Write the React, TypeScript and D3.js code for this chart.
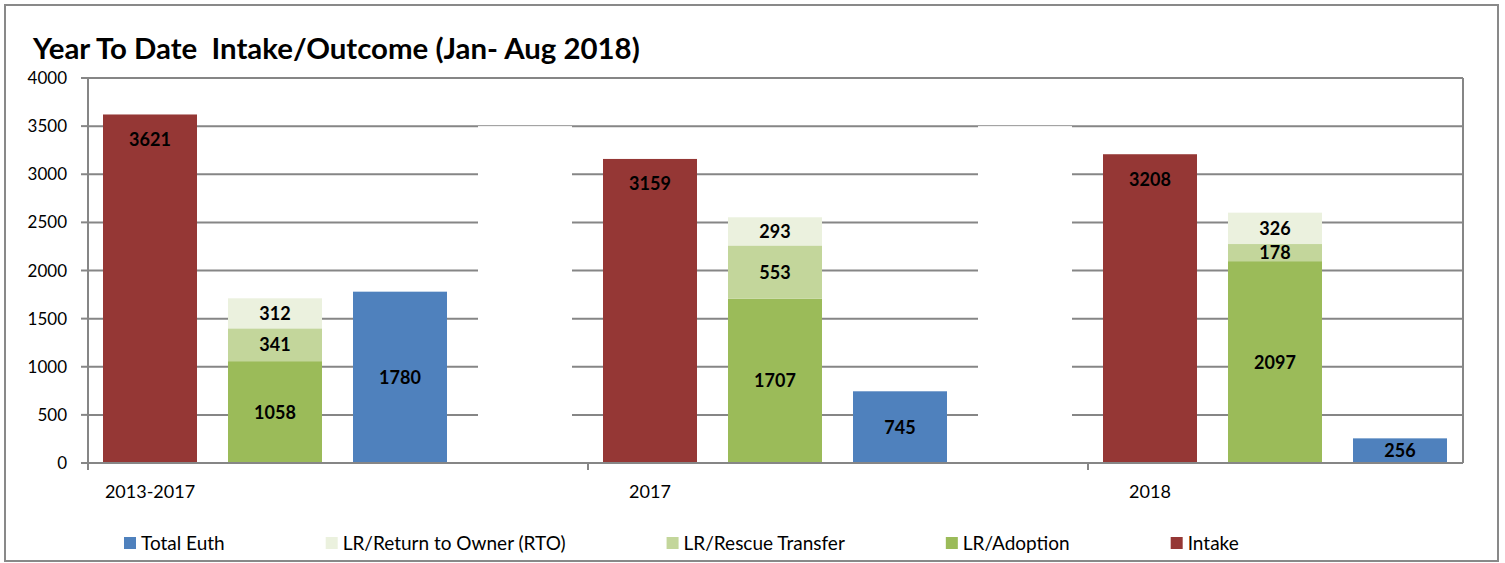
import * as d3 from 'd3';
import React, { useEffect, useRef } from 'react';

const categories = ['2013-2017', '2017', '2018'];
const intake = [3621, 3159, 3208];
const adoption = [1058, 1707, 2097];
const rescueTransfer = [341, 553, 178];
const returnToOwner = [312, 293, 326];
const totalEuth = [1780, 745, 256];
const spacer = [3500, 3500, 3500]; // empty white column in each group, it hides the gridlines
const yTicks = [0, 500, 1000, 1500, 2000, 2500, 3000, 3500, 4000];

const legendItems = [
  { key: 'euth', label: 'Total Euth' },
  { key: 'rto', label: 'LR/Return to Owner (RTO)' },
  { key: 'rescue', label: 'LR/Rescue Transfer' },
  { key: 'adoption', label: 'LR/Adoption' },
  { key: 'intake', label: 'Intake' },
];

const colors = {
  intake: '#953735',
  adoption: '#9bbb59',
  rescue: '#c3d69b',
  rto: '#ebf1de',
  euth: '#4f81bd',
};

const FONT = "Lato, 'Open Sans', sans-serif";

export default function App() {
  const svgRef = useRef(null);
  const width = 1505;
  const height = 563;
  const marginLeft = 88;
  const plotRight = 1463;
  const marginTop = 78;
  const plotBottom = 463;

  useEffect(() => {
    const svg = d3.select(svgRef.current);
    svg.selectAll('*').remove();

    const rows = categories.map((c, i) => ({
      category: c,
      intake: intake[i],
      adoption: adoption[i],
      rescue: rescueTransfer[i],
      rto: returnToOwner[i],
      euth: totalEuth[i],
      spacer: spacer[i],
    }));

    const x0 = d3
      .scaleBand()
      .domain(categories)
      .range([marginLeft, marginLeft + 500 * categories.length]);
    const x1 = d3
      .scaleBand()
      .domain(['intake', 'outcome', 'euth', 'spacer'])
      .range([15, 484])
      .paddingInner(0.248);
    const y = d3.scaleLinear().domain([0, 4000]).range([plotBottom, marginTop]);
    const bw = x1.bandwidth();

    // outer frame
    svg
      .append('rect')
      .attr('x', 5)
      .attr('y', 5)
      .attr('width', 1493)
      .attr('height', 556)
      .attr('fill', 'white')
      .attr('stroke', '#898989')
      .attr('stroke-width', 2);

    // title
    svg
      .append('text')
      .attr('x', 33)
      .attr('y', 59)
      .attr('font-family', FONT)
      .attr('font-weight', 'bold')
      .attr('font-size', 29.4)
      .attr('fill', '#000')
      .style('white-space', 'pre')
      .text('Year To Date  Intake/Outcome (Jan- Aug 2018)');

    svg
      .append('defs')
      .append('clipPath')
      .attr('id', 'plot-clip')
      .append('rect')
      .attr('x', marginLeft)
      .attr('y', 0)
      .attr('width', plotRight - marginLeft)
      .attr('height', height);

    // gridlines
    svg
      .append('g')
      .selectAll('line')
      .data(yTicks.filter((t) => t > 0))
      .enter()
      .append('line')
      .attr('x1', marginLeft)
      .attr('x2', plotRight)
      .attr('y1', (d) => y(d))
      .attr('y2', (d) => y(d))
      .attr('stroke', '#868686')
      .attr('stroke-width', 2);

    const plot = svg.append('g').attr('clip-path', 'url(#plot-clip)');

    // hidden spacer columns
    plot
      .selectAll('.spacer')
      .data(rows)
      .enter()
      .append('rect')
      .attr('class', 'spacer')
      .attr('x', (d) => x0(d.category) + x1('spacer'))
      .attr('y', (d) => y(d.spacer))
      .attr('width', bw)
      .attr('height', (d) => y(0) - y(d.spacer) - 1)
      .attr('fill', 'white');

    // intake
    plot
      .selectAll('.intake')
      .data(rows)
      .enter()
      .append('rect')
      .attr('x', (d) => x0(d.category) + x1('intake'))
      .attr('y', (d) => y(d.intake))
      .attr('width', bw)
      .attr('height', (d) => y(0) - y(d.intake))
      .attr('fill', colors.intake);

    // live release stack
    const layers = d3.stack().keys(['adoption', 'rescue', 'rto'])(rows);
    plot
      .append('g')
      .selectAll('g')
      .data(layers)
      .enter()
      .append('g')
      .attr('fill', (d) => colors[d.key])
      .selectAll('rect')
      .data((d) => d)
      .enter()
      .append('rect')
      .attr('x', (d) => x0(d.data.category) + x1('outcome'))
      .attr('y', (d) => y(d[1]))
      .attr('width', bw)
      .attr('height', (d) => y(d[0]) - y(d[1]));

    // euth
    plot
      .selectAll('.euth')
      .data(rows)
      .enter()
      .append('rect')
      .attr('x', (d) => x0(d.category) + x1('euth'))
      .attr('y', (d) => y(d.euth))
      .attr('width', bw)
      .attr('height', (d) => y(0) - y(d.euth))
      .attr('fill', colors.euth);

    // value labels
    const labels = [];
    rows.forEach((d) => {
      labels.push({ x: x0(d.category) + x1('intake') + bw / 2, y: y(d.intake) + 25, v: d.intake });
      labels.push({ x: x0(d.category) + x1('euth') + bw / 2, y: (y(d.euth) + y(0)) / 2, v: d.euth });
    });
    layers.forEach((layer) =>
      layer.forEach((s) =>
        labels.push({
          x: x0(s.data.category) + x1('outcome') + bw / 2,
          y: (y(s[0]) + y(s[1])) / 2,
          v: s[1] - s[0],
        })
      )
    );
    svg
      .append('g')
      .selectAll('text')
      .data(labels)
      .enter()
      .append('text')
      .attr('x', (d) => d.x)
      .attr('y', (d) => d.y)
      .attr('dy', '0.36em')
      .attr('text-anchor', 'middle')
      .attr('font-family', FONT)
      .attr('font-weight', 'bold')
      .attr('font-size', 18)
      .attr('fill', '#000')
      .text((d) => d.v);

    // right edge of plot area
    svg
      .append('line')
      .attr('x1', plotRight)
      .attr('x2', plotRight)
      .attr('y1', marginTop)
      .attr('y2', plotBottom)
      .attr('stroke', '#868686')
      .attr('stroke-width', 2);

    // y axis
    const yAxis = svg.append('g');
    yAxis
      .append('line')
      .attr('x1', marginLeft)
      .attr('x2', marginLeft)
      .attr('y1', marginTop)
      .attr('y2', plotBottom)
      .attr('stroke', '#868686')
      .attr('stroke-width', 2);
    yAxis
      .selectAll('.tick')
      .data(yTicks)
      .enter()
      .append('line')
      .attr('x1', marginLeft - 7)
      .attr('x2', marginLeft)
      .attr('y1', (d) => y(d))
      .attr('y2', (d) => y(d))
      .attr('stroke', '#868686')
      .attr('stroke-width', 2);
    yAxis
      .selectAll('text')
      .data(yTicks)
      .enter()
      .append('text')
      .attr('x', marginLeft - 21)
      .attr('y', (d) => y(d))
      .attr('dy', '0.36em')
      .attr('text-anchor', 'end')
      .attr('font-family', FONT)
      .attr('font-size', 17)
      .attr('fill', '#000')
      .text((d) => d);

    // x axis
    const xAxis = svg.append('g');
    xAxis
      .append('line')
      .attr('x1', marginLeft - 7)
      .attr('x2', plotRight)
      .attr('y1', plotBottom)
      .attr('y2', plotBottom)
      .attr('stroke', '#868686')
      .attr('stroke-width', 2);
    xAxis
      .selectAll('.tick')
      .data(categories)
      .enter()
      .append('line')
      .attr('x1', (d) => x0(d))
      .attr('x2', (d) => x0(d))
      .attr('y1', plotBottom)
      .attr('y2', plotBottom + 7)
      .attr('stroke', '#868686')
      .attr('stroke-width', 2);
    xAxis
      .selectAll('text')
      .data(categories)
      .enter()
      .append('text')
      .attr('x', (d) => x0(d) + x1('intake') + bw / 2)
      .attr('y', 498)
      .attr('text-anchor', 'middle')
      .attr('font-family', FONT)
      .attr('font-size', 18)
      .attr('fill', '#000')
      .text((d) => d);

    // legend
    const legend = svg.append('g');
    let lx = 124;
    legendItems.forEach((item) => {
      legend
        .append('rect')
        .attr('x', lx)
        .attr('y', 537)
        .attr('width', 12)
        .attr('height', 12)
        .attr('fill', colors[item.key]);
      const t = legend
        .append('text')
        .attr('x', lx + 17)
        .attr('y', 543)
        .attr('dy', '0.36em')
        .attr('font-family', FONT)
        .attr('font-size', 19)
        .attr('fill', '#000')
        .text(item.label);
      const w = t.node().getComputedTextLength();
      lx += 17 + w + 101;
    });
  }, []);

  return (
    <svg
      ref={svgRef}
      width={width}
      height={height}
      style={{ position: 'absolute', left: 0, top: 0, background: 'white' }}
    ></svg>
  );
}
